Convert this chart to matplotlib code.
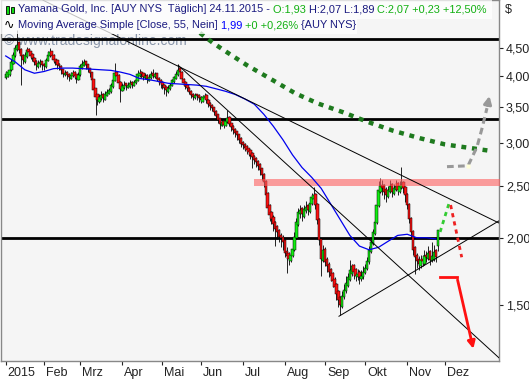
import matplotlib
matplotlib.use("Agg")
import matplotlib.pyplot as plt
import matplotlib.transforms as mtransforms
import numpy as np
from matplotlib.patches import Rectangle
from matplotlib.ticker import NullLocator, NullFormatter

# daily candles 2015 (open, high, low, close), one list per month
jan = [(3.96, 4.08, 3.95, 4.02), (3.98, 4.10, 3.97, 4.06), (4.01, 4.15, 4.00, 4.10), (4.09, 4.30, 4.08, 4.24),
       (4.21, 4.42, 4.20, 4.37), (4.34, 4.55, 4.33, 4.50), (4.46, 4.86, 4.45, 4.56), (4.61, 4.62, 4.40, 4.46),
       (4.49, 4.50, 3.84, 4.35), (4.37, 4.38, 4.20, 4.27), (4.23, 4.42, 4.22, 4.37), (4.33, 4.52, 4.32, 4.46),
       (4.49, 4.50, 4.36, 4.42), (4.44, 4.45, 4.30, 4.35), (4.39, 4.40, 4.25, 4.31), (4.32, 4.33, 4.18, 4.24),
       (4.26, 4.27, 4.10, 4.18), (4.15, 4.28, 4.14, 4.22), (4.20, 4.30, 4.15, 4.24), (4.25, 4.26, 4.10, 4.18)]
feb = [(4.20, 4.22, 4.10, 4.16), (4.15, 4.32, 4.14, 4.27), (4.26, 4.45, 4.25, 4.37), (4.34, 4.50, 4.33, 4.42),
       (4.44, 4.45, 4.30, 4.35), (4.37, 4.38, 4.22, 4.27), (4.29, 4.30, 4.18, 4.24), (4.27, 4.28, 4.12, 4.18),
       (4.20, 4.22, 4.10, 4.16), (4.17, 4.18, 4.03, 4.10), (4.11, 4.12, 3.98, 4.03), (4.01, 4.10, 4.00, 4.05),
       (4.07, 4.08, 3.95, 4.01), (4.03, 4.04, 3.90, 3.97), (3.95, 4.06, 3.94, 4.01), (3.99, 4.10, 3.98, 4.05),
       (4.07, 4.08, 3.94, 4.00), (4.02, 4.03, 3.88, 3.96), (3.93, 4.06, 3.92, 4.01)]
mar = [(4.01, 4.20, 4.00, 4.16), (4.13, 4.27, 4.12, 4.20), (4.17, 4.30, 4.16, 4.24), (4.25, 4.26, 4.12, 4.18),
       (4.20, 4.21, 4.06, 4.12), (4.13, 4.14, 3.98, 4.05), (4.06, 4.07, 3.86, 3.92), (3.94, 3.95, 3.70, 3.76),
       (3.79, 3.80, 3.38, 3.65), (3.69, 3.70, 3.52, 3.60), (3.57, 3.70, 3.56, 3.65), (3.62, 3.74, 3.60, 3.68),
       (3.70, 3.71, 3.57, 3.63), (3.61, 3.75, 3.60, 3.70), (3.67, 3.78, 3.66, 3.73), (3.70, 3.80, 3.69, 3.76),
       (3.73, 3.88, 3.72, 3.84), (3.81, 3.97, 3.80, 3.93), (3.91, 4.22, 3.90, 4.05), (4.07, 4.08, 3.94, 4.00),
       (4.01, 4.02, 3.82, 3.87), (3.89, 3.90, 3.57, 3.78)]
apr = [(3.75, 3.88, 3.74, 3.82), (3.79, 3.90, 3.78, 3.85), (3.87, 3.88, 3.76, 3.82), (3.80, 3.89, 3.79, 3.84),
       (3.81, 3.92, 3.80, 3.87), (3.89, 3.90, 3.80, 3.85), (3.83, 3.93, 3.82, 3.89), (3.87, 3.98, 3.86, 3.92),
       (3.91, 4.10, 3.90, 4.02), (3.99, 4.12, 3.98, 4.05), (4.07, 4.08, 3.96, 4.02), (4.04, 4.05, 3.93, 3.98),
       (3.96, 4.04, 3.94, 4.00), (4.01, 4.02, 3.88, 3.94), (3.91, 4.02, 3.90, 3.98), (3.96, 4.08, 3.95, 4.02),
       (4.04, 4.12, 3.96, 4.00), (3.97, 4.06, 3.96, 4.03), (4.04, 4.05, 3.90, 3.94), (3.96, 3.97, 3.85, 3.92),
       (3.93, 3.94, 3.80, 3.87)]
may = [(3.89, 3.90, 3.78, 3.84), (3.85, 3.86, 3.70, 3.79), (3.81, 3.82, 3.66, 3.76), (3.73, 3.84, 3.72, 3.79),
       (3.77, 3.88, 3.76, 3.85), (3.83, 3.95, 3.82, 3.92), (3.89, 4.00, 3.88, 3.97), (3.95, 4.08, 3.94, 4.03),
       (4.01, 4.20, 4.00, 4.10), (4.14, 4.15, 4.00, 4.06), (4.07, 4.08, 3.90, 3.94), (3.95, 3.96, 3.83, 3.87),
       (3.89, 3.90, 3.78, 3.82), (3.85, 3.86, 3.75, 3.79), (3.80, 3.81, 3.69, 3.73), (3.75, 3.76, 3.64, 3.68),
       (3.70, 3.71, 3.60, 3.65), (3.63, 3.72, 3.62, 3.68), (3.69, 3.70, 3.61, 3.67), (3.68, 3.69, 3.58, 3.63)]
jun = [(3.65, 3.66, 3.55, 3.60), (3.58, 3.68, 3.57, 3.65), (3.63, 3.72, 3.62, 3.67), (3.68, 3.69, 3.56, 3.60),
       (3.61, 3.62, 3.50, 3.54), (3.56, 3.57, 3.46, 3.51), (3.53, 3.54, 3.44, 3.48), (3.49, 3.50, 3.38, 3.42),
       (3.44, 3.45, 3.33, 3.37), (3.39, 3.40, 3.27, 3.31), (3.33, 3.34, 3.18, 3.25), (3.23, 3.32, 3.22, 3.28),
       (3.29, 3.30, 3.20, 3.24), (3.23, 3.34, 3.22, 3.30), (3.28, 3.45, 3.27, 3.34), (3.35, 3.36, 3.22, 3.25),
       (3.26, 3.27, 3.16, 3.21), (3.23, 3.24, 3.12, 3.17), (3.19, 3.20, 3.08, 3.13), (3.15, 3.16, 3.04, 3.10),
       (3.11, 3.12, 3.00, 3.04), (3.06, 3.07, 2.95, 2.99)]
jul = [(3.01, 3.02, 2.92, 2.97), (2.99, 3.00, 2.90, 2.94), (2.96, 2.97, 2.86, 2.91), (2.93, 2.94, 2.84, 2.88),
       (2.91, 2.92, 2.80, 2.85), (2.87, 2.88, 2.69, 2.82), (2.84, 2.85, 2.74, 2.79), (2.81, 2.82, 2.71, 2.76),
       (2.78, 2.79, 2.67, 2.72), (2.74, 2.75, 2.62, 2.67), (2.69, 2.70, 2.56, 2.61), (2.63, 2.64, 2.48, 2.54),
       (2.55, 2.56, 2.34, 2.40), (2.42, 2.43, 2.22, 2.27), (2.30, 2.31, 2.15, 2.20), (2.23, 2.24, 2.12, 2.17),
       (2.19, 2.20, 2.06, 2.12), (2.14, 2.15, 1.93, 2.08), (2.10, 2.11, 1.99, 2.05), (2.07, 2.08, 1.96, 2.01),
       (2.02, 2.04, 1.92, 2.00), (2.01, 2.02, 1.90, 1.96)]
aug = [(1.98, 1.99, 1.84, 1.87), (1.89, 1.92, 1.72, 1.85), (1.87, 1.88, 1.78, 1.83), (1.81, 1.90, 1.80, 1.86),
       (1.85, 1.95, 1.84, 1.91), (1.90, 2.05, 1.89, 2.01), (2.00, 2.18, 1.99, 2.14), (2.11, 2.27, 2.10, 2.23),
       (2.21, 2.30, 2.18, 2.25), (2.27, 2.28, 2.15, 2.21), (2.19, 2.30, 2.18, 2.26), (2.24, 2.34, 2.22, 2.28),
       (2.30, 2.31, 2.20, 2.25), (2.23, 2.36, 2.22, 2.32), (2.31, 2.42, 2.30, 2.38), (2.36, 2.48, 2.34, 2.40),
       (2.41, 2.42, 2.26, 2.30), (2.31, 2.32, 2.12, 2.16), (2.17, 2.18, 1.94, 1.98), (1.99, 2.00, 1.70, 1.83),
       (1.81, 1.94, 1.80, 1.90)]
sep = [(1.91, 1.92, 1.77, 1.80), (1.83, 1.84, 1.73, 1.77), (1.79, 1.80, 1.69, 1.73), (1.75, 1.76, 1.66, 1.70),
       (1.72, 1.73, 1.62, 1.66), (1.68, 1.69, 1.58, 1.62), (1.64, 1.65, 1.53, 1.57), (1.59, 1.60, 1.49, 1.53),
       (1.55, 1.56, 1.44, 1.50), (1.49, 1.59, 1.48, 1.56), (1.55, 1.64, 1.54, 1.60), (1.59, 1.70, 1.58, 1.65),
       (1.63, 1.72, 1.62, 1.69), (1.67, 1.82, 1.66, 1.74), (1.71, 1.79, 1.70, 1.77), (1.78, 1.79, 1.68, 1.73),
       (1.75, 1.76, 1.66, 1.70), (1.69, 1.75, 1.67, 1.71), (1.73, 1.74, 1.64, 1.69), (1.68, 1.74, 1.66, 1.70),
       (1.69, 1.77, 1.68, 1.73)]
oct_ = [(1.72, 1.79, 1.71, 1.76), (1.75, 1.84, 1.74, 1.81), (1.80, 1.93, 1.79, 1.90), (1.88, 1.99, 1.87, 1.96),
        (1.95, 2.08, 1.94, 2.05), (2.03, 2.18, 2.02, 2.14), (2.13, 2.34, 2.12, 2.30), (2.29, 2.55, 2.28, 2.45),
        (2.43, 2.58, 2.42, 2.49), (2.51, 2.56, 2.40, 2.47), (2.51, 2.52, 2.36, 2.43), (2.46, 2.48, 2.33, 2.40),
        (2.38, 2.50, 2.37, 2.45), (2.43, 2.56, 2.42, 2.49), (2.52, 2.53, 2.38, 2.43), (2.41, 2.52, 2.40, 2.47),
        (2.45, 2.56, 2.44, 2.50), (2.53, 2.54, 2.40, 2.45), (2.43, 2.55, 2.42, 2.49), (2.47, 2.71, 2.46, 2.51),
        (2.54, 2.55, 2.42, 2.47), (2.48, 2.49, 2.33, 2.40)]
nov = [(2.41, 2.42, 2.26, 2.30), (2.31, 2.32, 2.13, 2.17), (2.18, 2.19, 2.01, 2.05), (2.06, 2.07, 1.86, 1.90),
       (1.92, 1.93, 1.71, 1.84), (1.86, 1.87, 1.76, 1.81), (1.83, 1.85, 1.74, 1.79), (1.77, 1.86, 1.76, 1.82),
       (1.83, 1.86, 1.77, 1.81), (1.79, 1.90, 1.78, 1.85), (1.86, 1.89, 1.80, 1.84), (1.83, 1.93, 1.82, 1.87),
       (1.89, 1.90, 1.78, 1.82), (1.81, 1.96, 1.80, 1.85), (1.82, 1.94, 1.81, 1.88), (1.90, 1.91, 1.80, 1.84),
       (1.93, 2.07, 1.89, 2.07)]
months = [jan, feb, mar, apr, may, jun, jul, aug, sep, oct_, nov]
month_labels = ['2015', 'Feb', 'Mrz', 'Apr', 'Mai', 'Jun', 'Jul', 'Aug', 'Sep', 'Okt', 'Nov', 'Dez']
days_left_nov = 3

# SMA 55 read every 5 bars
ma_step = 5
ma55 = [4.35, 4.24, 4.10, 4.04, 4.07, 4.12, 4.13, 4.13, 4.12, 4.11, 4.10, 4.09, 4.06, 4.02, 3.95, 3.93,
        3.90, 3.87, 3.86, 3.85, 3.84, 3.82, 3.78, 3.74, 3.69, 3.62, 3.54, 3.39, 3.22, 3.04, 2.85, 2.70,
        2.59, 2.47, 2.31, 2.16, 2.02, 1.93, 1.90, 1.92, 1.97, 2.02, 2.03, 2.00, 2.00, 1.99]

# drawings (bar index, price)
h_levels = [4.68, 3.32, 2.00]
resist_band = (130, 2.49, 2.57)
trend_upper = [(19.5, 5.52), (258, 2.13)]
trend_steep = [(90.2, 4.18), (258, 1.197)]
trend_support = [(174.3, 1.43), (258, 2.15)]
green_path = [(101.6, 4.80), (108.4, 4.60), (115.7, 4.42), (126.2, 4.18), (139.8, 3.92), (151.3, 3.71),
              (163.3, 3.55), (176.4, 3.42), (189.5, 3.28), (202.6, 3.16), (216.7, 3.06), (229.8, 2.98),
              (253.3, 2.90)]
gray_path = [(230.8, 2.71), (241.8, 2.72), (246.5, 2.95), (249.0, 3.18), (251.7, 3.48), (253.3, 3.71)]
up_path = [(227.2, 2.05), (232.4, 2.35)]
down_path = [(232.7, 2.30), (238.5, 1.84)]
red_path = [(227.1, 1.69), (236.0, 1.69), (244.9, 1.23)]

yticks = [1.5, 2.0, 2.5, 3.0, 3.5, 4.0, 4.5]

ohlc = np.array([row for m in months for row in m])
o, h, l, c = ohlc.T
x = np.arange(len(ohlc))
month_starts = list(np.cumsum([0] + [len(m) for m in months]))
month_starts[-1] += days_left_nov

fig = plt.figure(figsize=(5.29, 3.80), dpi=100)
fig.patch.set_facecolor('white')
ax = fig.add_axes([1 / 529, 19 / 380, 498 / 529, 361 / 380])
ax.set_facecolor('#f5f5f5')
ax.set_yscale('log')
ax.set_ylim(1.181, 5.525)
ax.set_xlim(-2.46, 258)

for v in h_levels:
    ax.axhline(v, color='black', lw=2.0, zorder=2)

ax.text(0.006, 0.886, '© www.tradesignalonline.com', transform=ax.transAxes, fontsize=10,
        color='#8a96aa', va='center', ha='left', zorder=1, family='Liberation Sans')

# candles
up = c >= o
ax.vlines(x, l, h, color='black', lw=0.6, zorder=3)
ax.bar(x, np.abs(c - o), bottom=np.minimum(o, c), width=1.25,
       color=np.where(up, '#11ee11', '#ff1111'), edgecolor='black', linewidth=0.35, zorder=4)

ax.fill_between([resist_band[0], 300], resist_band[1], resist_band[2], color='#ff6060', alpha=0.6,
                lw=0, zorder=5)

ax.plot(np.arange(len(ma55)) * ma_step, ma55, color='#0000ee', lw=0.9, zorder=6)

for line in (trend_upper, trend_steep, trend_support):
    (x0, y0), (x1, y1) = line
    ax.plot([x0, x1], [y0, y1], color='black', lw=0.7, zorder=6)

gx, gy = zip(*green_path)
ax.plot(gx, gy, color='#1e7a1e', lw=3.2, dashes=(1.1, 1.3), zorder=6)

px, py = zip(*gray_path)
ax.plot(px[:-1], py[:-1], color='#999999', lw=2.2, dashes=(2.2, 1.4), zorder=6)
ax.annotate('', xy=gray_path[-1], xytext=gray_path[-2],
            arrowprops=dict(arrowstyle='-|>', color='#999999', lw=2.2, mutation_scale=11), zorder=6)
ax.plot(*gray_path[1], marker='s', ms=3, color='#ffffd8', mec='none', zorder=7)

ux, uy = zip(*up_path)
ax.plot(ux, uy, color='#33cc33', lw=2, dashes=(1.5, 1.5), zorder=6)
dx, dy = zip(*down_path)
ax.plot(dx, dy, color='#ee2222', lw=2, dashes=(1.5, 1.5), zorder=6)
rx, ry = zip(*red_path)
ax.plot(rx[:-1], ry[:-1], color='#ff1010', lw=2, zorder=6)
ax.annotate('', xy=red_path[-1], xytext=red_path[-2],
            arrowprops=dict(arrowstyle='-|>', color='#ff1010', lw=2, mutation_scale=11), zorder=6)

# axes
ax.yaxis.tick_right()
ax.set_yticks(yticks)
ax.set_yticklabels([f'{v:.2f}'.replace('.', ',') for v in yticks])
ax.yaxis.set_minor_locator(NullLocator())
ax.yaxis.set_minor_formatter(NullFormatter())
ax.tick_params(axis='y', length=3, pad=2, labelsize=9, colors='#222222', direction='out')
ax.set_xticks(month_starts)
ax.set_xticklabels(month_labels, ha='left')
ax.tick_params(axis='x', length=3, pad=1, labelsize=9, colors='#222222', direction='out')
shift = mtransforms.ScaledTranslation(2 / 100, 0, fig.dpi_scale_trans)
for lab in ax.get_xticklabels():
    lab.set_transform(lab.get_transform() + shift)
for lab in ax.get_xticklabels() + ax.get_yticklabels():
    lab.set_family('Liberation Sans')
for s in ax.spines.values():
    s.set_color('#888888')
    s.set_linewidth(1)

fig.text(505 / 529, 1 - 10 / 380, '$', fontsize=9, color='#222222', va='center',
         family='Liberation Sans')

# header legend
fig.add_artist(Rectangle((0, 1 - 19 / 380), 492 / 529, 19 / 380, transform=fig.transFigure,
                         facecolor='white', alpha=0.75, lw=0, zorder=5))
fig.add_artist(Rectangle((0, 1 - 34 / 380), 357 / 529, 15 / 380, transform=fig.transFigure,
                         facecolor='white', alpha=0.75, lw=0, zorder=5))

navy = '#1a1a80'
green = '#11b011'
line1 = [('Yamana Gold, Inc. [AUY NYS  Täglich] 24.11.2015 - ', navy), ('O:1,93 ', green),
         ('H:2,07 ', navy), ('L:1,89 ', navy), ('C:2,07 +0,23 +12,50%', green)]
line2 = [('Moving Average Simple [Close, 55, Nein] ', navy), ('1,99 ', '#0000ff'),
         ('+0 +0,26% ', green), ('{AUY NYS}', navy)]

renderer = fig.canvas.get_renderer()


def draw_parts(parts, x0, y0):
    xpos = x0
    for txt, col in parts:
        t = fig.text(xpos / 529, 1 - y0 / 380, txt, color=col, fontsize=7.9, va='center', ha='left',
                     family='Liberation Sans', zorder=6)
        xpos += t.get_window_extent(renderer).width


draw_parts(line1, 18, 9.5)
draw_parts(line2, 18, 25.5)

# icons
fig.add_artist(Rectangle((6 / 529, 1 - 14 / 380), 3 / 529, 8 / 380, transform=fig.transFigure,
                         facecolor='#11dd11', edgecolor='black', lw=0.6, zorder=6))
fig.add_artist(Rectangle((11 / 529, 1 - 13 / 380), 3 / 529, 6 / 380, transform=fig.transFigure,
                         facecolor='#11dd11', edgecolor='black', lw=0.6, zorder=6))
fig.text(4 / 529, 1 - 25.5 / 380, '∿', fontsize=9, color='black', va='center', zorder=6)

fig.savefig('out.png', dpi=100, facecolor='white')
